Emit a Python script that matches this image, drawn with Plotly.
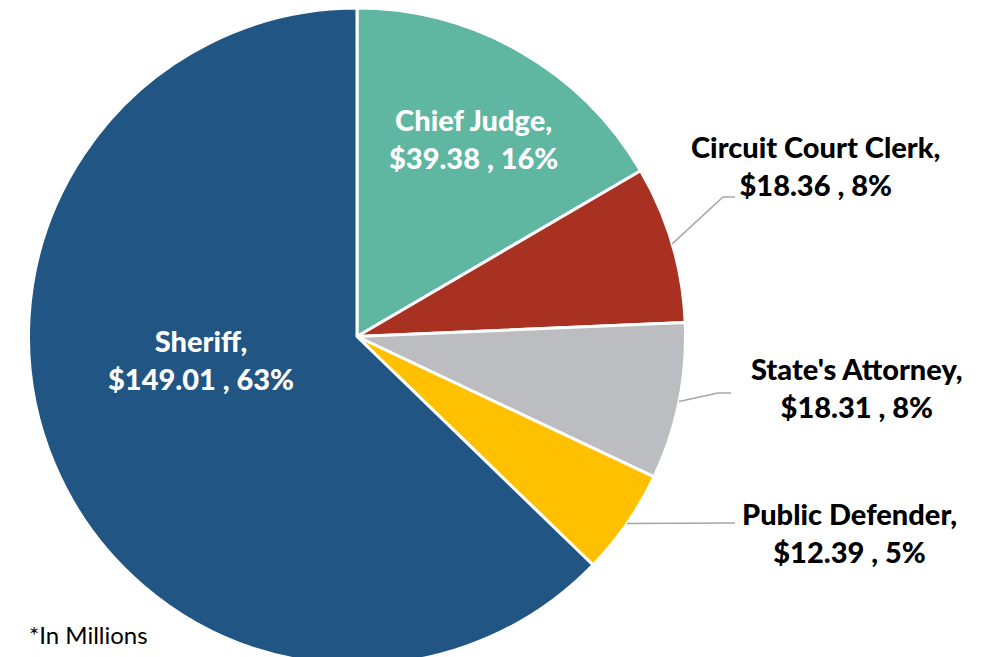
import math
import plotly.graph_objects as go

# ---- data ----
labels = ["Chief Judge", "Circuit Court Clerk", "State's Attorney", "Public Defender", "Sheriff"]
values = [39.38, 18.36, 18.31, 12.39, 149.01]
percents = [16, 8, 8, 5, 63]
colors = ["#5FB6A1", "#A93121", "#BBBDC0", "#FFC000", "#215583"]
note = "*In Millions"

W, H = 994, 657
OFF = 8                        # page body margin offset seen in the screenshot
CX = 357.0 - OFF               # pie centre (figure px)
R = H / 2.0                    # pie radius (px)
CY = H / 2.0


def px(x):
    return x / W


def py(y):
    return 1 - y / H


def sx(x):          # screenshot px -> paper
    return px(x - OFF)


def sy(y):
    return py(y - OFF)


def texts():
    return [f"{l},<br>${v:.2f} , {p}%" for l, v, p in zip(labels, values, percents)]


fig = go.Figure(go.Pie(
    labels=labels,
    values=values,
    sort=False,
    direction="clockwise",
    rotation=0,
    marker=dict(colors=colors, line=dict(color="white", width=3)),
    textinfo="none",
    hoverinfo="label+value+percent",
    domain=dict(x=[px(CX - R), px(CX + R)], y=[0, 1]),
    showlegend=False,
))

# mid-angle of every slice (degrees clockwise from 12 o'clock)
total = sum(values)
mids = []
acc = 0.0
for v in values:
    mids.append((acc + v / 2) / total * 360)
    acc += v


def edge(i, r=R):
    a = math.radians(mids[i])
    return CX + r * math.sin(a), CY - r * math.cos(a)


t = texts()
FONT = "Lato"
SIZE = 29

# label placements (screenshot px): (x, y, colour)
placements = {
    0: (473, 139, "white"),
    1: (815, 165, "black"),
    2: (857, 387, "black"),
    3: (849, 532, "black"),
    4: (201, 359, "white"),
}
for i, (x, y, c) in placements.items():
    fig.add_annotation(
        x=sx(x), y=sy(y), xref="paper", yref="paper",
        text=t[i], showarrow=False, xanchor="center", yanchor="middle",
        font=dict(family=FONT, size=SIZE, color=c, weight=900),
        align="center",
    )

# leader lines for outside labels: elbow / end points (screenshot px)
leaders = {
    1: [(723, 197), (735, 197)],
    2: [(718, 393), (731, 393)],
    3: [(735, 523)],
}
for i, pts in leaders.items():
    ex, ey = edge(i)
    path = f"M {px(ex)} {py(ey)}"
    for (x, y) in pts:
        path += f" L {sx(x)} {sy(y)}"
    fig.add_shape(type="path", path=path, xref="paper", yref="paper",
                  line=dict(color="#A6A6A6", width=1.5))

fig.add_annotation(
    x=sx(27), y=sy(634), xref="paper", yref="paper",
    text=note, showarrow=False, xanchor="left", yanchor="middle",
    font=dict(family=FONT, size=24, color="black"),
)

fig.update_layout(
    width=W, height=H,
    margin=dict(l=0, r=0, t=0, b=0),
    paper_bgcolor="white",
    plot_bgcolor="white",
)

fig.write_html("out.html")
